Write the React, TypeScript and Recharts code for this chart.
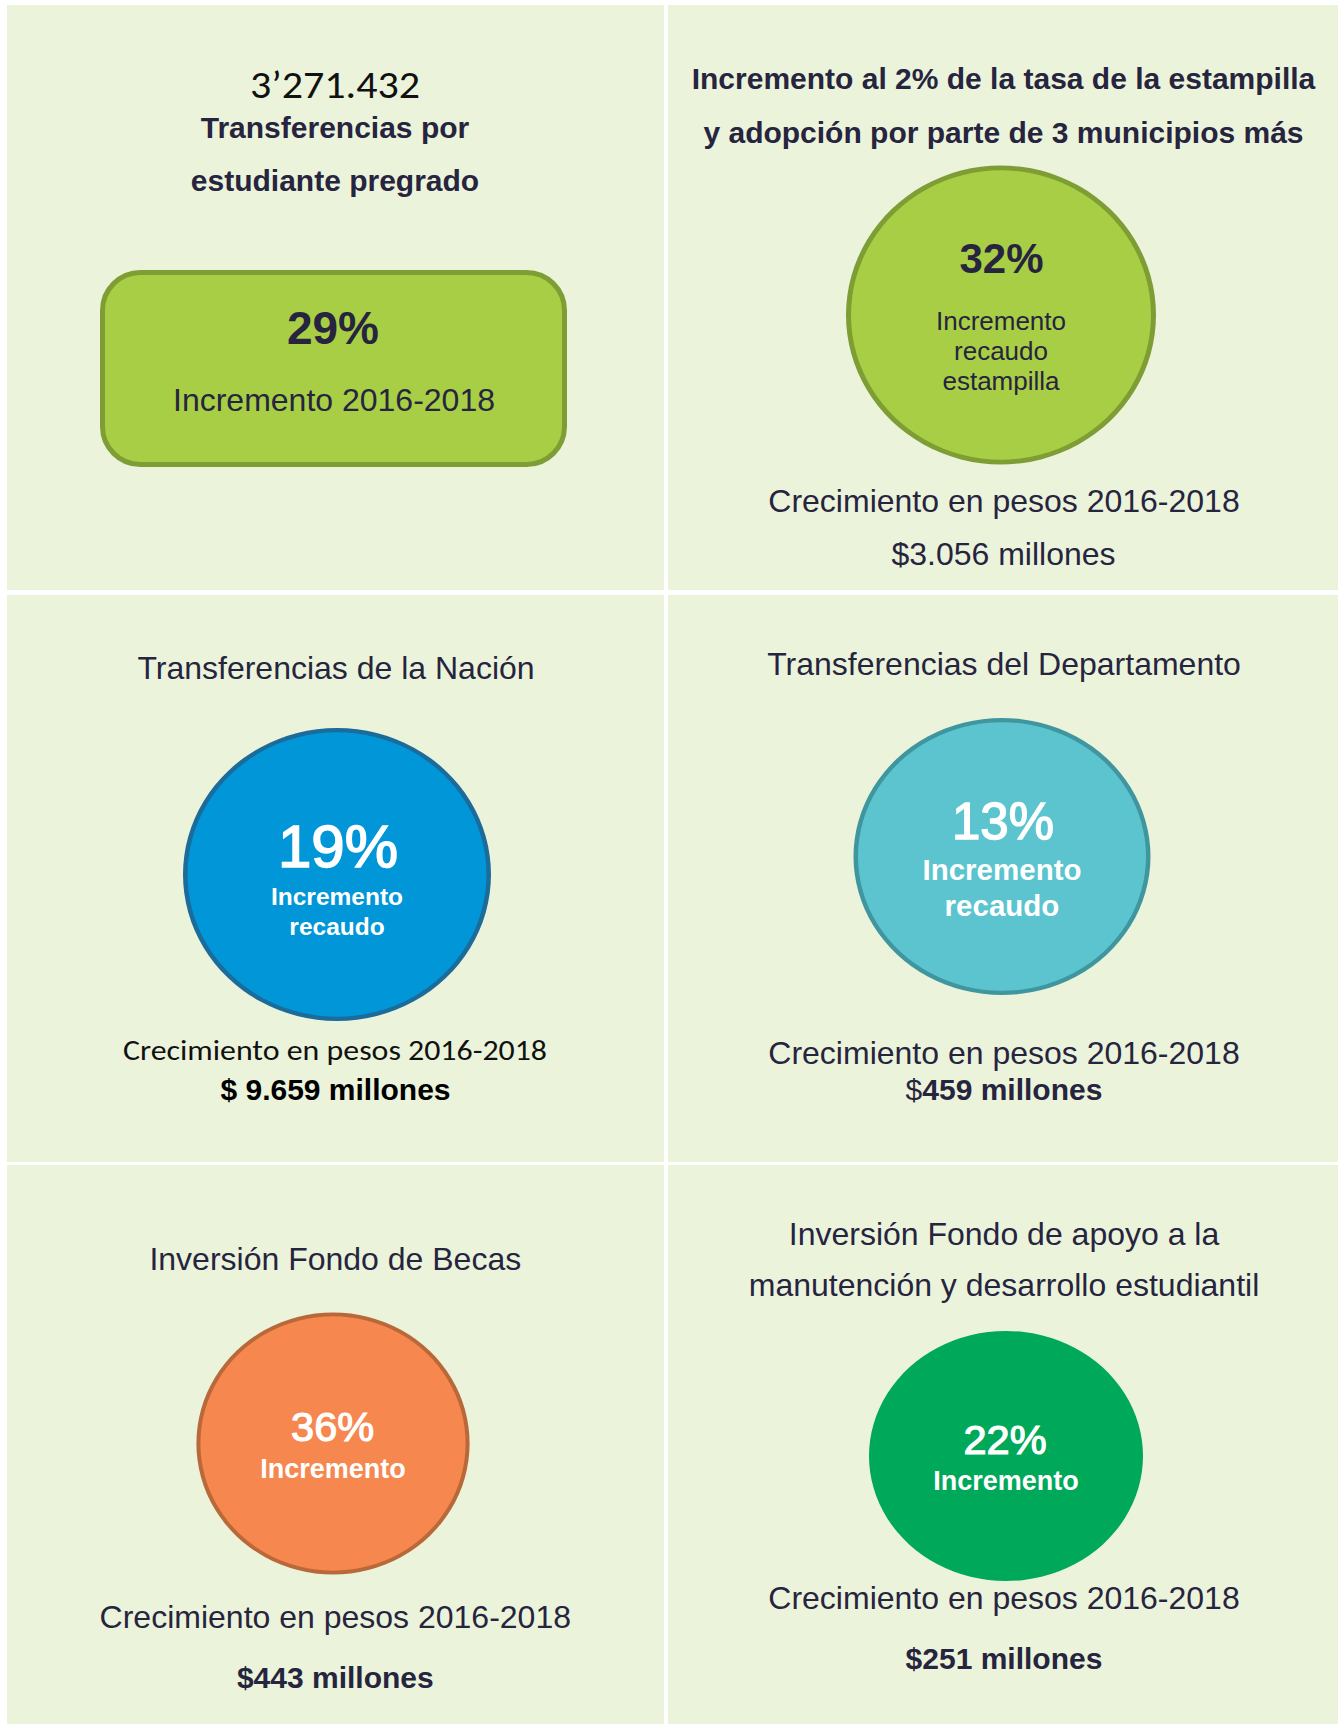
import React from "react";
import { Bar, BarChart, Pie, PieChart, XAxis, YAxis } from "recharts";

const headline = "3’271.432";
const panelTitles: string[][] = [
  ["Transferencias por", "estudiante pregrado"],
  ["Incremento al 2% de la tasa de la estampilla", "y adopción por parte de 3 municipios más"],
  ["Transferencias de la Nación"],
  ["Transferencias del Departamento"],
  ["Inversión Fondo de Becas"],
  ["Inversión Fondo de apoyo a la", "manutención y desarrollo estudiantil"],
];
const increments = [29, 32, 19, 13, 36, 22];
const incrementLabels: string[][] = [
  ["Incremento 2016-2018"],
  ["Incremento", "recaudo", "estampilla"],
  ["Incremento", "recaudo"],
  ["Incremento", "recaudo"],
  ["Incremento"],
  ["Incremento"],
];
const growthCaption = "Crecimiento en pesos 2016-2018";
const growthMillions = ["", "3.056", "9.659", "459", "443", "251"];

// ---- layout ----
const PAGE_W = 1338;
const PAGE_H = 1724;
const COLS = [
  { x: 7, w: 657 },
  { x: 668, w: 670 },
];
const ROWS = [
  { y: 5, h: 585 },
  { y: 595, h: 567 },
  { y: 1165, h: 559 },
];
const PANEL_BG = "#ebf4da";
const NAVY = "#27243f";
const SANS = "'Liberation Sans', Arial, Helvetica, sans-serif";
const CALIBRI = "Carlito, Lato, 'Open Sans', sans-serif";

// discos de los paneles 1..5 (coordenadas de página)
const discs = [
  null,
  { cx: 1001, cy: 315, rx: 155, ry: 149.5, sw: 5, fill: "#a8ce45", stroke: "#7e9d34" },
  { cx: 337, cy: 874.5, rx: 154, ry: 146.5, sw: 4.5, fill: "#0096d8", stroke: "#1b6b9b" },
  { cx: 1002, cy: 856.5, rx: 148.5, ry: 138.5, sw: 4.5, fill: "#5bc4cf", stroke: "#40969f" },
  { cx: 333, cy: 1443.5, rx: 136.6, ry: 131, sw: 4, fill: "#f5874f", stroke: "#b9683a" },
  { cx: 1006, cy: 1456, rx: 137, ry: 125, sw: 0, fill: "#00a859", stroke: "none" },
];

function panelBox(i: number) {
  const c = COLS[i % 2];
  const r = ROWS[Math.floor(i / 2)];
  return { x: c.x, y: r.y, w: c.w, h: r.h };
}

function Txt(props: {
  x: number;
  y: number;
  size: number;
  weight?: number | string;
  color?: string;
  family?: string;
  fit?: number;
  heavy?: number;
  children: React.ReactNode;
}) {
  const { x, y, size, weight = 400, color = NAVY, family = SANS, fit, heavy, children } = props;
  return (
    <text
      x={x}
      y={y}
      fontSize={size}
      fontWeight={weight}
      fill={color}
      stroke={heavy ? color : undefined}
      strokeWidth={heavy}
      fontFamily={family}
      textAnchor="middle"
      textLength={fit}
      lengthAdjust={fit ? "spacingAndGlyphs" : undefined}
    >
      {children}
    </text>
  );
}

/** Panel 0: la caja redondeada es una barra única que llena el área del gráfico. */
function BoxPanel() {
  const b = panelBox(0);
  // bordes exteriores de la caja: x 100–567, y 270–467 (trazo de 5)
  const sw = 5;
  const margin = {
    left: 100 + sw / 2 - b.x,
    right: b.x + b.w - (567 - sw / 2),
    top: 270 + sw / 2 - b.y,
    bottom: b.y + b.h - (467 - sw / 2),
  };
  return (
    <BarChart
      width={b.w}
      height={b.h}
      data={[{ name: incrementLabels[0][0], value: increments[0] }]}
      margin={margin}
      barCategoryGap={0}
    >
      <XAxis dataKey="name" hide />
      <YAxis hide domain={[0, "dataMax"]} />
      <Bar
        dataKey="value"
        fill="#a8ce45"
        stroke="#7e9d34"
        strokeWidth={sw}
        radius={38}
        isAnimationActive={false}
      />
    </BarChart>
  );
}

/** Paneles 1..5: disco = pie de una sola porción; el aro es un segundo pie. */
function DiscPanel({ i }: { i: number }) {
  const b = panelBox(i);
  const d = discs[i]!;
  const cx = d.cx - b.x;
  const cy = d.cy - b.y;
  const data = [{ name: panelTitles[i].join(" "), value: increments[i] }];
  return (
    <div
      style={{
        position: "absolute",
        left: 0,
        top: 0,
        transform: `scaleY(${d.ry / d.rx})`,
        transformOrigin: `${cx}px ${cy}px`,
      }}
    >
      <PieChart width={b.w} height={b.h} margin={{ top: 0, right: 0, bottom: 0, left: 0 }}>
        <Pie
          data={data}
          dataKey="value"
          cx={cx}
          cy={cy}
          innerRadius={0}
          outerRadius={d.rx - d.sw / 2}
          startAngle={90}
          endAngle={-270}
          fill={d.fill}
          stroke="none"
          isAnimationActive={false}
        />
        {d.sw > 0 && (
          <Pie
            data={data}
            dataKey="value"
            cx={cx}
            cy={cy}
            innerRadius={d.rx - d.sw}
            outerRadius={d.rx}
            startAngle={90}
            endAngle={-270}
            fill={d.stroke}
            stroke="none"
            isAnimationActive={false}
          />
        )}
      </PieChart>
    </div>
  );
}

function Overlay() {
  const W = "#ffffff";
  return (
    <svg
      width={PAGE_W}
      height={PAGE_H}
      style={{ position: "absolute", left: 0, top: 0, pointerEvents: "none" }}
    >
      {/* panel 0 */}
      <Txt x={335} y={98} size={38} family={CALIBRI} color="#111" fit={170}>
        {headline}
      </Txt>
      <Txt x={335} y={138} size={30} weight="bold">{panelTitles[0][0]}</Txt>
      <Txt x={335} y={191} size={30} weight="bold">{panelTitles[0][1]}</Txt>
      <Txt x={333} y={344} size={46} weight="bold">{`${increments[0]}%`}</Txt>
      <Txt x={334} y={410.5} size={32}>{incrementLabels[0][0]}</Txt>

      {/* panel 1 */}
      <Txt x={1003.5} y={89} size={30} weight="bold">{panelTitles[1][0]}</Txt>
      <Txt x={1003.5} y={142.5} size={30} weight="bold">{panelTitles[1][1]}</Txt>
      <Txt x={1001.5} y={272.5} size={42} weight="bold">{`${increments[1]}%`}</Txt>
      {incrementLabels[1].map((t, k) => (
        <Txt key={t} x={1001} y={330 + k * 30} size={26}>{t}</Txt>
      ))}
      <Txt x={1004} y={512} size={32}>{growthCaption}</Txt>
      <Txt x={1003.5} y={564.5} size={32}>{`$${growthMillions[1]} millones`}</Txt>

      {/* panel 2 */}
      <Txt x={336} y={679} size={32}>{panelTitles[2][0]}</Txt>
      <Txt x={338} y={866.5} size={60} color={W} heavy={1.6}>{`${increments[2]}%`}</Txt>
      {incrementLabels[2].map((t, k) => (
        <Txt key={t} x={337} y={905 + k * 30} size={24.5} weight="bold" color={W}>{t}</Txt>
      ))}
      <Txt x={335} y={1060} size={29} family={CALIBRI} color="#111" fit={424}>
        {growthCaption}
      </Txt>
      <Txt x={335.5} y={1100} size={30} weight="bold" color="#000">
        {`$ ${growthMillions[2]} millones`}
      </Txt>

      {/* panel 3 */}
      <Txt x={1004} y={675} size={32}>{panelTitles[3][0]}</Txt>
      <Txt x={1003} y={839} size={51} color={W} heavy={1.4}>{`${increments[3]}%`}</Txt>
      {incrementLabels[3].map((t, k) => (
        <Txt key={t} x={1002} y={879.5 + k * 36.5} size={29.5} weight="bold" color={W}>{t}</Txt>
      ))}
      <Txt x={1004} y={1064} size={32}>{growthCaption}</Txt>
      <Txt x={1004} y={1100} size={30} weight="bold">
        <tspan fontWeight={400}>$</tspan>
        {`${growthMillions[3]} millones`}
      </Txt>

      {/* panel 4 */}
      <Txt x={335.3} y={1269.6} size={32}>{panelTitles[4][0]}</Txt>
      <Txt x={332.6} y={1441} size={41.5} color={W} heavy={1.2}>{`${increments[4]}%`}</Txt>
      <Txt x={333} y={1478} size={27} weight="bold" color={W}>{incrementLabels[4][0]}</Txt>
      <Txt x={335.3} y={1628} size={32}>{growthCaption}</Txt>
      <Txt x={335.3} y={1687.5} size={30} weight="bold">{`$${growthMillions[4]} millones`}</Txt>

      {/* panel 5 */}
      <Txt x={1004} y={1245} size={32}>{panelTitles[5][0]}</Txt>
      <Txt x={1004} y={1296} size={32}>{panelTitles[5][1]}</Txt>
      <Txt x={1005} y={1454} size={41.5} color={W} heavy={1.2}>{`${increments[5]}%`}</Txt>
      <Txt x={1006} y={1490} size={27} weight="bold" color={W}>{incrementLabels[5][0]}</Txt>
      <Txt x={1004} y={1609} size={32}>{growthCaption}</Txt>
      <Txt x={1004} y={1669} size={30} weight="bold">{`$${growthMillions[5]} millones`}</Txt>
    </svg>
  );
}

export default function App() {
  return (
    <div
      style={{
        position: "absolute",
        left: 0,
        top: 0,
        width: PAGE_W,
        height: PAGE_H,
        background: "#ffffff",
        overflow: "hidden",
      }}
    >
      {increments.map((_, i) => {
        const b = panelBox(i);
        return (
          <div
            key={i}
            style={{
              position: "absolute",
              left: b.x,
              top: b.y,
              width: b.w,
              height: b.h,
              background: PANEL_BG,
            }}
          >
            {i === 0 ? <BoxPanel /> : <DiscPanel i={i} />}
          </div>
        );
      })}
      <Overlay />
    </div>
  );
}
